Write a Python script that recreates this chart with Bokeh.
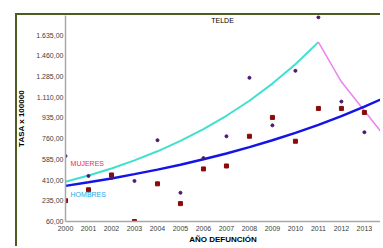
from bokeh.plotting import figure
from bokeh.models import Label, FixedTicker
from bokeh.embed import file_html
from bokeh.resources import INLINE

years = list(range(2000, 2014))
serie_puntos = [613, 445, 428, 403, 747, 303, 596, 780, 1274, 872, 1333, 1785, 1073, 814]
serie_cuadros = [236, 328, 453, 60, 378, 211, 504, 529, 780, 939, 738, 1015, 1015, 981]

trend_cyan_years = list(range(2000, 2012))
trend_cyan = [395, 448, 508, 576, 653, 741, 840, 953, 1080, 1225, 1389, 1575]

trend_blue_years = list(range(2000, 2015))
trend_blue = [361, 391, 424, 460, 498, 540, 586, 635, 688, 746, 809, 876, 950, 1030, 1116]

trend_pink_years = [2011, 2012, 2013, 2014]
trend_pink = [1575, 1240, 995, 750]

y_ticks = [60, 235, 410, 585, 760, 935, 1110, 1285, 1460, 1635]
y_tick_labels = ["60,00", "235,00", "410,00", "585,00", "760,00", "935,00",
                 "1.110,00", "1.285,00", "1.460,00", "1.635,00"]
x_ticks = years
x_tick_labels = [str(y) for y in years]

FONT = "Liberation Sans"
OLIVE = "#4d5d22"

p = figure(width=380, height=246, x_range=(2000, 2013.7), y_range=(60, 1800),
           output_backend="svg", toolbar_location=None,
           min_border_left=65, min_border_right=0, min_border_top=15, min_border_bottom=23)
p.styles = {
    "background-color": "white",
    "background-image": f"linear-gradient({OLIVE}, {OLIVE}), linear-gradient({OLIVE}, {OLIVE})",
    "background-size": "100% 2px, 2px 100%",
    "background-position": "15px 13px, 15px 13px",
    "background-repeat": "no-repeat",
}

p.grid.visible = False
p.outline_line_color = None
p.background_fill_color = "white"
p.border_fill_color = None

for ax in (p.xaxis[0], p.yaxis[0]):
    ax.axis_line_color = "#a8a8a8"
    ax.axis_line_width = 1.5
    ax.major_tick_line_color = None
    ax.minor_tick_line_color = None
    ax.major_tick_out = 0
    ax.major_tick_in = 0
    ax.minor_tick_out = 0
    ax.major_label_text_font = FONT
    ax.major_label_text_font_size = "7px"
    ax.major_label_text_color = "#404040"
    ax.axis_label_text_font = FONT
    ax.axis_label_text_font_size = "8px"
    ax.axis_label_text_font_style = "bold"
    ax.axis_label_text_color = "black"

p.yaxis.ticker = FixedTicker(ticks=y_ticks)
p.yaxis.major_label_overrides = {t: l for t, l in zip(y_ticks, y_tick_labels)}
p.yaxis.major_label_standoff = 2
p.yaxis.axis_label = "TASA x 100000"
p.yaxis.axis_label_standoff = 7
p.xaxis.ticker = FixedTicker(ticks=x_ticks)
p.xaxis.major_label_overrides = {t: l for t, l in zip(x_ticks, x_tick_labels)}
p.xaxis.major_label_standoff = 4
p.xaxis.axis_label = "AÑO DEFUNCIÓN"
p.xaxis.axis_label_standoff = 1

p.line(trend_cyan_years, trend_cyan, line_color="#40e0d0", line_width=2)
p.line(trend_pink_years, trend_pink, line_color="#ee82ee", line_width=1.5)
p.line(trend_blue_years, trend_blue, line_color="#1414e6", line_width=2.5)

p.scatter(years, serie_cuadros, marker="square", size=4, fill_color="#8b0a0a", line_color="#8b0a0a")
p.scatter(years, serie_puntos, marker="circle", size=3, fill_color="#4b1a6b", line_color="#4b1a6b")

p.add_layout(Label(x=2006.83, y=1758, text="TELDE", text_font=FONT, text_font_size="7px",
                   text_color="black", text_align="center", text_baseline="middle"))
p.add_layout(Label(x=2000.22, y=554, text="MUJERES", text_font=FONT, text_font_size="7px",
                   text_color="#ee2b4b", text_align="left", text_baseline="middle"))
p.add_layout(Label(x=2000.22, y=286, text="HOMBRES", text_font=FONT, text_font_size="7px",
                   text_color="#1ea7ea", text_align="left", text_baseline="middle"))

open("out.html", "w").write(file_html(p, INLINE))
